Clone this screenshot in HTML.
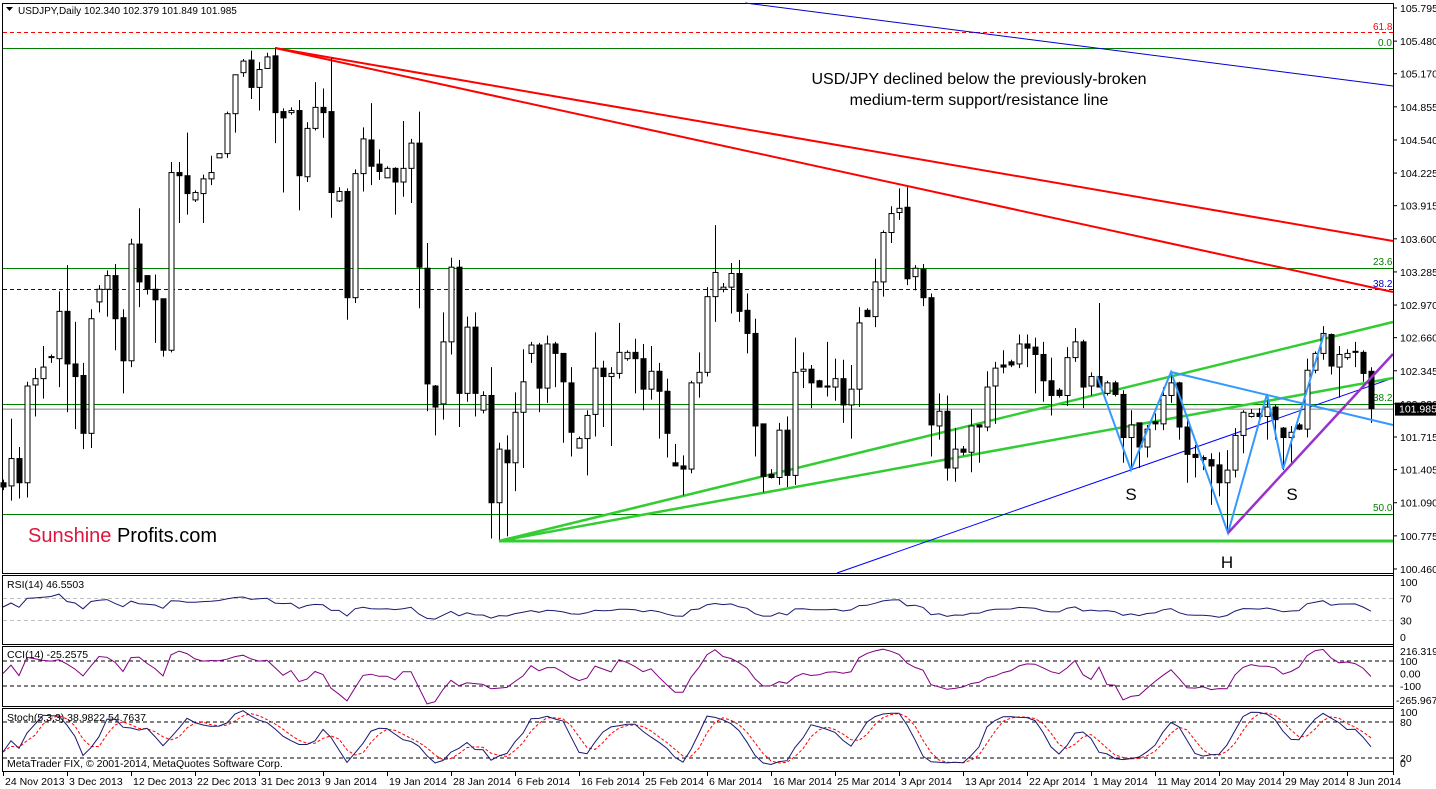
<!DOCTYPE html>
<html><head><meta charset="utf-8">
<style>
html,body{margin:0;padding:0;background:#fff;}
svg{display:block;font-family:"Liberation Sans",Tahoma,sans-serif;}
</style></head>
<body>
<svg id="chart" width="1436" height="789" viewBox="0 0 1436 789" xmlns="http://www.w3.org/2000/svg">
<rect x="0" y="0" width="1436" height="789" fill="#fff"/>
<g id="main"></g>
</svg>
<script>
// ---- data (prices) ----
const opens=[101.28,101.25,101.51,101.28,102.21,102.27,102.47,102.46,102.91,102.41,102.30,101.75,103.00,103.12,103.25,102.85,102.44,103.55,103.25,103.12,103.03,102.54,104.23,104.20,103.97,104.03,104.17,104.37,104.41,104.79,105.18,105.30,105.04,105.22,105.34,104.81,104.80,104.82,104.19,104.65,104.85,104.81,103.96,104.05,103.04,104.22,104.54,104.31,104.18,104.27,104.14,104.27,104.51,103.32,102.20,102.03,102.62,103.33,102.13,102.76,101.97,102.11,101.09,101.59,101.47,101.95,102.51,102.59,102.18,102.60,102.51,102.23,101.61,101.70,101.93,102.37,102.29,102.32,102.46,102.52,102.46,102.17,102.34,102.15,101.47,101.44,101.41,102.23,102.33,103.05,103.12,103.14,103.27,102.92,102.70,101.84,101.36,101.33,101.78,101.35,102.34,102.36,102.25,102.20,102.19,102.27,102.02,102.17,102.92,102.86,103.19,103.66,103.85,103.90,103.24,103.31,103.04,101.82,101.96,101.42,101.60,101.57,101.83,101.81,102.20,102.40,102.43,102.41,102.60,102.57,102.50,102.25,102.16,102.11,102.47,102.62,102.20,102.29,102.13,102.23,102.12,101.71,101.85,101.62,101.86,101.84,102.11,102.23,101.81,101.55,101.52,101.50,101.45,101.28,101.40,101.73,101.91,101.94,101.91,102.00,101.80,101.71,101.83,101.79,102.35,102.51,102.69,102.38,102.47,102.53,102.52,102.34];
const highs=[101.31,101.89,101.62,102.24,102.37,102.58,102.50,103.10,103.35,102.81,102.42,102.93,103.16,103.30,103.36,102.93,103.60,103.89,103.25,103.26,103.03,104.33,104.33,104.61,104.06,104.21,104.39,104.41,104.81,105.16,105.31,105.39,105.28,105.37,105.41,104.84,104.85,104.92,104.71,105.09,105.03,105.32,104.09,104.08,104.26,104.66,104.89,104.45,104.29,104.28,104.72,104.55,104.81,103.56,102.21,102.90,103.42,103.40,102.86,102.90,102.15,102.38,101.66,101.73,102.14,102.55,102.62,102.61,102.68,102.62,102.51,102.38,101.72,101.97,102.71,102.44,102.38,102.80,102.54,102.65,102.60,102.58,102.42,102.27,101.65,101.54,102.25,102.52,103.14,103.73,103.18,103.37,103.40,103.08,102.84,101.84,101.41,101.85,101.91,102.66,102.52,102.40,102.26,102.62,102.46,102.45,102.40,102.95,102.94,103.41,103.68,103.91,104.08,104.09,103.35,103.36,103.08,102.13,102.11,101.80,101.63,101.98,101.83,102.34,102.43,102.54,102.45,102.69,102.69,102.66,102.62,102.47,102.18,102.57,102.75,102.64,102.33,102.99,102.25,102.25,102.16,101.97,101.85,101.83,101.94,102.19,102.33,102.24,101.88,101.64,101.54,101.56,101.57,101.59,101.80,101.97,101.98,101.99,102.10,102.02,101.81,101.82,101.85,102.46,102.53,102.77,102.70,102.58,102.55,102.62,102.54,102.379];
const lows=[101.21,101.11,101.13,101.14,101.91,102.08,102.42,102.19,101.95,101.79,101.60,101.61,102.90,102.86,102.54,102.13,102.38,102.95,103.07,102.61,102.48,102.52,103.75,103.83,103.95,103.75,104.11,104.37,104.37,104.61,105.14,104.93,104.82,105.22,104.51,104.04,104.78,103.87,104.14,104.63,104.56,103.80,103.95,102.83,102.99,104.05,104.11,104.16,104.18,103.83,104.00,103.94,102.94,101.96,101.73,101.88,102.50,101.81,102.05,101.91,101.94,100.75,100.74,100.77,101.20,101.42,102.42,101.95,102.04,102.19,101.66,101.53,101.61,101.35,101.72,101.81,101.63,102.27,102.44,102.13,101.97,102.07,101.70,101.52,101.44,101.16,101.37,102.09,102.29,102.81,103.09,102.89,102.81,102.51,101.53,101.19,101.32,101.26,101.24,101.26,102.18,101.99,102.19,102.10,102.06,101.85,101.70,102.00,102.86,102.76,103.05,103.56,103.78,103.16,103.11,102.96,101.53,101.69,101.30,101.29,101.54,101.38,101.47,101.77,101.84,102.32,102.38,102.37,102.38,102.13,102.05,101.92,102.09,102.01,102.43,101.99,102.11,102.19,102.11,102.10,101.47,101.42,101.42,101.52,101.78,101.78,102.04,101.69,101.28,101.33,101.40,101.07,101.15,100.80,101.33,101.56,101.90,101.88,101.69,101.69,101.40,101.47,101.78,101.71,102.32,102.45,102.31,102.09,102.45,102.38,102.24,101.849];
const closes=[101.24,101.51,101.28,102.20,102.27,102.38,102.48,102.91,102.41,102.29,101.75,102.84,103.12,103.25,102.84,102.44,103.55,103.19,103.12,103.02,102.54,104.23,104.20,104.03,104.04,104.17,104.23,104.41,104.79,105.16,105.29,105.04,105.21,105.33,104.80,104.75,104.82,104.20,104.65,104.85,104.80,104.04,104.05,103.04,104.22,104.55,104.29,104.24,104.27,104.14,104.27,104.51,103.33,102.22,102.00,102.62,103.33,102.13,102.76,102.13,102.11,101.09,101.60,101.47,101.95,102.24,102.59,102.18,102.60,102.51,102.24,101.76,101.70,101.92,102.37,102.29,102.32,102.52,102.52,102.46,102.17,102.34,102.15,101.75,101.44,101.41,102.23,102.33,103.05,103.28,103.14,103.27,102.91,102.70,101.82,101.34,101.33,101.78,101.35,102.33,102.36,102.23,102.19,102.19,102.27,102.02,102.17,102.80,102.86,103.19,103.66,103.84,103.89,103.22,103.32,103.04,101.83,101.96,101.42,101.60,101.57,101.82,101.81,102.19,102.37,102.38,102.40,102.60,102.56,102.50,102.25,102.11,102.11,102.47,102.62,102.19,102.29,102.19,102.23,102.12,101.71,101.83,101.62,101.79,101.84,102.11,102.23,101.81,101.55,101.52,101.50,101.44,101.28,101.40,101.73,101.95,101.94,101.91,102.00,101.88,101.71,101.76,101.79,102.35,102.51,102.70,102.39,102.50,102.51,102.52,102.32,101.985];
const dateLabels=["24 Nov 2013","3 Dec 2013","12 Dec 2013","22 Dec 2013","31 Dec 2013","9 Jan 2014","19 Jan 2014","28 Jan 2014","6 Feb 2014","16 Feb 2014","25 Feb 2014","6 Mar 2014","16 Mar 2014","25 Mar 2014","3 Apr 2014","13 Apr 2014","22 Apr 2014","1 May 2014","11 May 2014","20 May 2014","29 May 2014","8 Jun 2014"];
const priceTicks=[105.795,105.480,105.170,104.855,104.540,104.225,103.915,103.600,103.285,102.970,102.660,102.345,102.030,101.715,101.405,101.090,100.775,100.460];

// ---- axes ----
const NS="http://www.w3.org/2000/svg";
const svg=document.getElementById('chart');
const g=document.getElementById('main');
const xOf=i=>3+8*i;
const yP=p=>8+(105.795-p)*105.15;
const yRSI=v=>637-v*0.55;
const yCCI=v=>673.5-v*0.125;
const ySto=v=>770-v*0.6;
function el(tag,attrs,parent){const e=document.createElementNS(NS,tag);for(const k in attrs)e.setAttribute(k,attrs[k]);(parent||g).appendChild(e);return e;}
function txt(x,y,s,attrs){const e=el('text',Object.assign({x:x,y:y,'font-size':11,fill:'#000'},attrs||{}));e.textContent=s;return e;}

const frames=[[2,3,573],[2,575,644],[2,646,706],[2,708,771]];
const frameNames=['price-panel-frame','rsi-panel-frame','cci-panel-frame','stoch-panel-frame'];
frames.forEach((f,k)=>{const r=el('rect',{x:2.5,y:f[1]+0.5,width:1391,height:f[2]-f[1],fill:'none',stroke:'#000','stroke-width':1});

});

function hline(y,color,dash,w,name,x1){const l=el('line',{x1:x1||3,x2:1393,y1:y,y2:y,stroke:color,'stroke-width':w||1});if(dash)l.setAttribute('stroke-dasharray',dash);

return l;}
hline(32.5,'#ff0000','4,3',1,'fib-61-8-line');
hline(48.5,'#008000',null,1,'fib-0-line');
hline(268.5,'#008000',null,1,'fib-23-6-line');
hline(289.5,'#0000cc','4,3',1,'fib-38-2-blue-line');
hline(404.5,'#008000',null,1,'fib-38-2-green-line');
hline(yP(101.985)+0.5,'#808080',null,1,'bid-price-line');
hline(514.5,'#008000',null,1,'fib-50-line');
hline(541,'#32cd32',null,3,'support-line-horizontal',499);
function flab(x,y,s,c,n){const t=txt(x,y,s,{fill:c,'font-size':10});

}
flab(1373,30,'61.8','#ff0000','fib-label-61-8');
flab(1378,46,'0.0','#008000','fib-label-0');
flab(1373,265,'23.6','#008000','fib-label-23-6');
flab(1373,287,'38.2','#0000cc','fib-label-38-2-blue');
flab(1373,401,'38.2','#008000','fib-label-38-2-green');
flab(1373,511,'50.0','#008000','fib-label-50');

function tl(x1,y1,x2,y2,c,w,n){const l=el('line',{x1:x1,y1:y1,x2:x2,y2:y2,stroke:c,'stroke-width':w});

}
tl(275,48,1393,241,'#ff0000',2,'red-resistance-line-upper');
tl(275,48,1393,292,'#ff0000',2,'red-resistance-line-lower');
tl(745,3,1393,86,'#0000cc',1,'blue-trend-line-top');
tl(837,573,1393,378,'#0000ff',1,'blue-support-line');
tl(499,541,1393,322,'#32cd32',2.5,'green-support-line-upper');
tl(499,541,1393,378,'#32cd32',2.5,'green-support-line-lower');

for(let i=0;i<closes.length;i++){
  const x=xOf(i), o=opens[i], c=closes[i];
  const w=el('line',{x1:x+0.5,x2:x+0.5,y1:yP(highs[i]),y2:yP(lows[i]),stroke:'#000','stroke-width':1});
  
  
  const top=yP(Math.max(o,c)), bot=yP(Math.min(o,c));
  const b=el('rect',{x:x-2,y:top,width:5,height:Math.max(1,bot-top),fill:c>=o?'#fff':'#000',stroke:'#000','stroke-width':1});
  
  
}

const hs=el('polyline',{points:'1097,376 1131,470 1171,372 1228,533 1267,394 1283,469 1324,334',fill:'none',stroke:'#3399ff','stroke-width':2});


tl(1171,372,1393,425,'#3399ff',2,'neckline');
tl(1228,533,1393,354,'#9932cc',2.5,'purple-support-line');
[['S',1131,500,'left-shoulder-label'],['H',1227,568,'head-label'],['S',1292,500,'right-shoulder-label']].forEach(a=>{const t=txt(a[1],a[2],a[0],{'font-size':17,'text-anchor':'middle'});

});

const an1=txt(979,84,'USD/JPY declined below the previously-broken',{'font-size':16,'text-anchor':'middle'});


const an2=txt(979,105,'medium-term support/resistance line',{'font-size':16,'text-anchor':'middle'});



const logo=el('text',{x:28,y:542,'font-size':20});


const s1=el('tspan',{fill:'#e0143c'},logo);s1.textContent='Sunshine ';
const s2=el('tspan',{fill:'#000'},logo);s2.textContent='Profits.com';

const tri=el('polygon',{points:'6,7 13,7 9.5,11',fill:'#000'});


const title=txt(18,14,'USDJPY,Daily  102.340 102.379 101.849 101.985',{'font-size':10});



const ax=el('line',{x1:1393.5,x2:1393.5,y1:3,y2:775,stroke:'#000','stroke-width':1});


priceTicks.forEach(p=>{const y=yP(p);
  el('line',{x1:1393,x2:1397,y1:y,y2:y,stroke:'#000'});
  const t=txt(1400,y+4,p.toFixed(3),{'font-size':10.5});
  
  });
const pb=el('rect',{x:1395,y:yP(101.985)-6,width:41,height:13,fill:'#000'});


const pt=txt(1399,yP(101.985)+4,'101.985',{fill:'#fff','font-size':10.5});



// ---- indicators (derived from OHLC) ----
const n=closes.length;
const rsi=[], cci=[], stK=[], stD=[];
let ag=0.06,al=0.05;
for(let i=0;i<n;i++){
  if(i===0){rsi.push(100-100/(1+ag/al));continue;}
  const d=closes[i]-closes[i-1], up=Math.max(d,0), dn=Math.max(-d,0);
  ag=(ag*13+up)/14; al=(al*13+dn)/14;
  rsi.push(al===0?100:100-100/(1+ag/al));
}
const tp=closes.map((c,i)=>(c+highs[i]+lows[i])/3);
for(let i=0;i<n;i++){
  const s=Math.max(0,i-13), win=tp.slice(s,i+1), m=win.reduce((a,b)=>a+b,0)/win.length;
  const md=win.reduce((a,b)=>a+Math.abs(b-m),0)/win.length;
  cci.push(md===0?0:(tp[i]-m)/(0.015*md));
}
const num=[],den=[];
for(let i=0;i<n;i++){
  const s=Math.max(0,i-4); const hh=Math.max(...highs.slice(s,i+1)), ll=Math.min(...lows.slice(s,i+1));
  num.push(closes[i]-ll); den.push(hh-ll);
  const s3=Math.max(0,i-2); let a=0,b=0; for(let j=s3;j<=i;j++){a+=num[j];b+=den[j];}
  stK.push(b===0?50:100*a/b);
  const d3=stK.slice(s3,i+1); stD.push(d3.reduce((x,y)=>x+y,0)/d3.length);
}
function poly(vals,yf,color,name,dash,w){const pts=vals.map((v,i)=>xOf(i)+','+Math.max(576,Math.min(770,yf(v))).toFixed(1)).join(' ');
  const p=el('polyline',{points:pts,fill:'none',stroke:color,'stroke-width':w||1});if(dash)p.setAttribute('stroke-dasharray',dash);
  
  }
function lvl(y,c,name){const l=el('line',{x1:3,x2:1393,y1:y,y2:y,stroke:c,'stroke-dasharray':'4,3'});

}
lvl(yRSI(70),'#c0c0c0','rsi-70-level');lvl(yRSI(30),'#c0c0c0','rsi-30-level');
lvl(yCCI(100),'#000','cci-100-level');lvl(yCCI(-100),'#000','cci-minus100-level');
lvl(ySto(80),'#000','stoch-80-level');lvl(ySto(20),'#000','stoch-20-level');
poly(rsi,yRSI,'#191970','rsi-line');
poly(cci.map(v=>Math.max(-260,Math.min(210,v))),yCCI,'#800080','cci-line');
poly(stD,ySto,'#ff0000','stoch-signal-line','3,2');
poly(stK,ySto,'#191970','stoch-main-line');
function ilab(x,y,s,n){const t=txt(x,y,s,{'font-size':10.5});

}
ilab(7,588,'RSI(14) 46.5503','rsi-title');
ilab(7,658,'CCI(14) -25.2575','cci-title');
ilab(7,721,'Stoch(5,3,3) 38.9822 54.7637','stoch-title');
ilab(7,767,'MetaTrader FIX, © 2001-2014, MetaQuotes Software Corp.','copyright');
[[100,yRSI(100)],[70,yRSI(70)],[30,yRSI(30)],[0,yRSI(0)]].forEach(a=>ilab(1400,a[1]+4,String(a[0]),'rsi-axis-label'));
ilab(1400,655,'216.3199','cci-max-label');ilab(1400,yCCI(100)+4,'100','cci-axis-label');
ilab(1400,yCCI(0)+4,'0.00','cci-axis-label');ilab(1400,yCCI(-100)+4,'-100','cci-axis-label');
ilab(1396,704,'-265.9678','cci-min-label');
ilab(1400,716,'100','stoch-axis-label');ilab(1400,ySto(80)+4,'80','stoch-axis-label');
ilab(1400,ySto(20)+4,'20','stoch-axis-label');ilab(1400,767,'0','stoch-axis-label');

dateLabels.forEach((d,k)=>{const x=xOf(8*k);
  el('line',{x1:x+0.5,x2:x+0.5,y1:771,y2:776,stroke:'#000'});
  const t=txt(x+2,785,d,{'font-size':10.5});
  
  });
</script>
</body></html>
